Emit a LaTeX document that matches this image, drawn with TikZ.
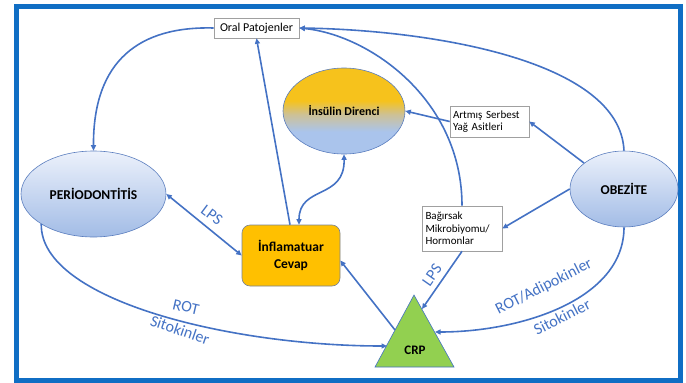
\documentclass[tikz,border=0pt]{standalone}
\usepackage{fontspec}
\setmainfont{Carlito}
\usetikzlibrary{arrows.meta,shapes.geometric}
\definecolor{lineblue}{RGB}{68,114,196}
\definecolor{frameblue}{RGB}{16,110,196}
\definecolor{ellborder}{RGB}{90,125,190}
\definecolor{elltop}{RGB}{236,241,251}
\definecolor{ellbot}{RGB}{162,188,230}
\definecolor{boxgray}{RGB}{160,160,160}
\definecolor{gold}{RGB}{255,192,0}
\definecolor{insgold}{RGB}{246,194,28}
\definecolor{insmid}{RGB}{205,193,150}
\definecolor{insblue}{RGB}{170,196,236}
\definecolor{crpgreen}{RGB}{146,208,80}
\definecolor{inflborder}{RGB}{120,130,150}
\pgfdeclareverticalshading{insulshade}{100bp}{color(0bp)=(insblue); color(25bp)=(insblue); color(38bp)=(insblue); color(48bp)=(insmid); color(56bp)=(insgold); color(75bp)=(insgold); color(100bp)=(insgold)}
\begin{document}
\begin{tikzpicture}[x=1pt,y=-1pt,
  arr/.style={draw=lineblue, line width=1.6pt, -{Triangle[length=5.5pt,width=5pt]}},
  darr/.style={draw=lineblue, line width=1.6pt, {Triangle[length=5.5pt,width=5pt]}-{Triangle[length=5.5pt,width=5pt]}},
  ell/.style={ellipse, draw=ellborder, line width=0.6pt, top color=elltop, bottom color=ellbot, inner sep=0pt, font=\fontsize{13.5}{15}\selectfont\bfseries},
  whitebox/.style={rectangle, draw=boxgray, fill=white, line width=0.6pt, inner sep=0pt},
  lbl/.style={text=lineblue, font=\fontsize{16}{18}\selectfont, inner sep=0pt}
]
\useasboundingbox (0,0) rectangle (686,383);
\draw[frameblue, line width=5pt] (16.5,6.5) rectangle (680.5,380.5);

% nodes
\node[whitebox, minimum width=85pt, minimum height=20pt, font=\fontsize{12}{14}\selectfont] (oral) at (256.5,28) {Oral Patojenler};
\node[ellipse, draw=ellborder, line width=0.6pt, shading=insulshade, inner sep=0pt, minimum width=122pt, minimum height=86pt, font=\fontsize{12}{14}\selectfont\bfseries] (insul) at (344,111) {İnsülin Direnci};
\node[whitebox, minimum width=79pt, minimum height=31pt, text width=73pt, align=left, font=\fontsize{11}{11.7}\selectfont] (artmis) at (489.5,121.5) {Artmış Serbest\\Yağ Asitleri};
\node[ell, minimum width=145pt, minimum height=86pt] (perio) at (93.5,194) {PERİODONTİTİS};
\node[ell, minimum width=108pt, minimum height=76pt] (obez) at (624,189) {OBEZİTE};
\node[rectangle, rounded corners=8pt, draw=inflborder, fill=gold, line width=0.6pt, minimum width=98pt, minimum height=61pt, align=center, inner sep=0pt, font=\fontsize{13.5}{16.5}\selectfont\bfseries] (inflam) at (291,255.5) {İnflamatuar\\Cevap};
\node[whitebox, minimum width=80pt, minimum height=45pt, text width=73pt, align=left, font=\fontsize{11}{12.3}\selectfont] (bag) at (462,228.5) {Bağırsak\\Mikrobiyomu/\\Hormonlar};
\draw[draw=lineblue, fill=crpgreen, line width=0.6pt] (414,295) -- (454,367) -- (375,367) -- cycle;
\node[font=\fontsize{13}{15}\selectfont\bfseries, inner sep=0pt] (crp) at (415,350) {CRP};
\coordinate (crpA) at (395,330);
\coordinate (crpB) at (387,346);
\coordinate (crpC) at (435,332);
\coordinate (crpD) at (422,309);

% connectors
\draw[arr] (oral.west) .. controls (140,26) and (93,60) .. (perio.north);
\draw[arr] ([xshift=-1pt]inflam.north) -- (oral.south);
\draw[darr] ([xshift=8pt]inflam.north) .. controls (299,185) and (345,200) .. (insul.south);
\draw[arr] (artmis.west) -- (insul.east);
\draw[arr] (obez.147) -- (artmis.east);
\draw[arr] (obez.west) -- (bag.east);
\draw[arr] (obez.north) .. controls (620,60) and (430,30) .. (oral.east);
\draw[arr] (bag.north) .. controls (462,100) and (370,35) .. (oral.east);
\draw[arr] (bag.south) -- (crpD);
\draw[darr] (perio.east) -- (inflam.west);
\draw[arr] (crpA) -- ([yshift=-5pt]inflam.east);
\draw[arr] (perio.210) .. controls (40,300) and (230,346) .. (crpB);
\draw[arr] (obez.south) .. controls (624,300) and (520,332) .. (crpC);

% labels
\node[lbl, rotate=-37] (lps1) at (212,215) {LPS};
\node[lbl, rotate=55] (lps2) at (432,275) {LPS};
\node[lbl, rotate=-13] (rot1) at (186,307) {ROT};
\node[lbl, rotate=-19] (sit1) at (180,330) {Sitokinler};
\node[lbl, rotate=27] (rot2) at (544,287) {ROT/Adipokinler};
\node[lbl, rotate=27] (sit2) at (562,317) {Sitokinler};
\end{tikzpicture}
\end{document}
